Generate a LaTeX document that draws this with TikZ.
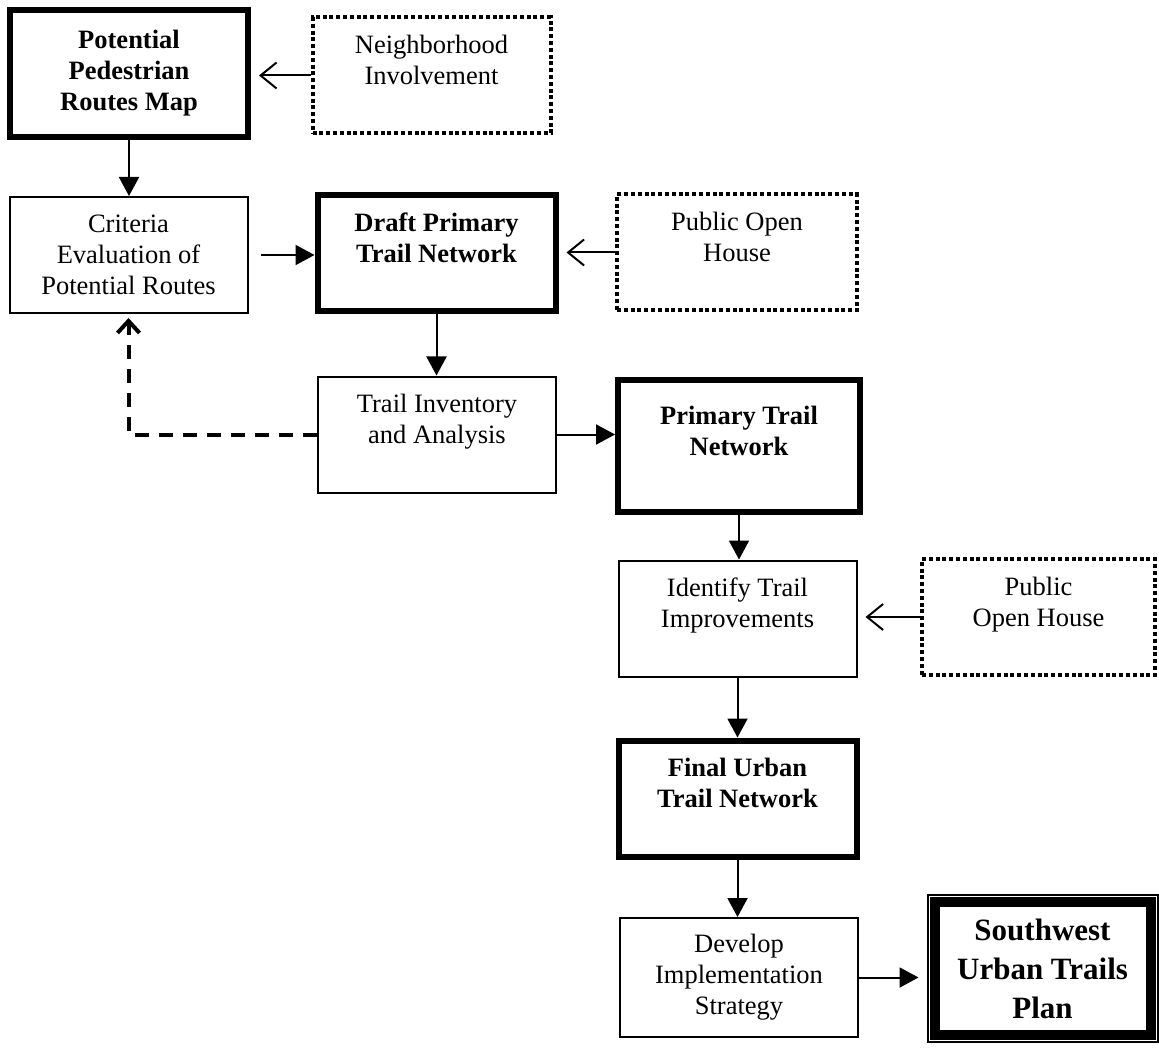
\documentclass[tikz,border=0pt]{standalone}
\usepackage{fontspec}
\setmainfont{Liberation Serif}
\usetikzlibrary{arrows.meta}

\begin{document}
\begin{tikzpicture}[x=.5pt,y=-.5pt,line width=1pt,
    box/.style={draw,align=center,inner sep=0pt,minimum width=119pt,minimum height=58pt,
      font=\fontsize{13.25}{15.5}\selectfont},
    heavy/.style={box,line width=3pt,font=\fontsize{13.25}{15.5}\selectfont\bfseries},
    dots/.style={box,line width=2pt,dash pattern=on 2pt off 1.4pt},
    fed/.style={-{Triangle[length=9.5pt,width=10pt]}},
    input/.style={-{Straight Barb[length=8pt,width=13pt]},shorten >=4pt},
    back/.style={line width=2pt,dash pattern=on 7pt off 5pt,shorten >=2pt,
      -{Straight Barb[length=6pt,width=11pt]}}]
      \useasboundingbox (0,0) rectangle (1159,1047);

      \node[heavy,minimum height=63.5pt] (A0) at (129,73.5) {Potential\\Pedestrian\\Routes Map};
      \node[dots] (A1) at (431.5,75.5) {Neighborhood\\Involvement\\\mbox{}};

      \node[box] (B0) at (128.5,255) {Criteria\\Evaluation of\\Potential Routes};
      \node[heavy] (B1) at (436.5,253.5) {Draft Primary\\Trail Network\\\mbox{}};
      \node[dots,minimum width=120pt] (B2) at (737,252.5) {Public Open\\House\\\mbox{}};

      \node[box] (C1) at (437,434.5) {Trail Inventory\\and Analysis\\\mbox{}};
      \node[heavy,minimum width=121pt,minimum height=66pt] (C2) at (739,446) {Primary Trail\\Network\\\mbox{}};

      \node[box] (D2) at (737.5,618.5) {Identify Trail\\Improvements\\\mbox{}};
      \node[dots,minimum width=116.5pt] (D3) at (1038.5,617) {Public\\Open House\\\mbox{}};

      \node[heavy] (E2) at (737.5,798.5) {Final Urban\\Trail Network\\\mbox{}};

      \node[box,minimum height=59.5pt] (F2) at (739,977.5) {Develop\\Implementation\\Strategy};
      \node[box,minimum width=115pt,minimum height=73.5pt,
        font=\fontsize{15.5}{19.5}\selectfont\bfseries] (F3) at (1042.5,968.5) {Southwest\\Urban Trails\\Plan};
      \draw[line width=5pt] ([shift={(4pt,-4pt)}]F3.north west) rectangle ([shift={(-4pt,4pt)}]F3.south east);

      \draw[input] (A1.west) -- (A1.west -| A0.east);
      \draw[fed] (A0.south) -- (A0.south |- B0.north);
      \draw[fed,shorten <=6pt] (B0.east) -- (B0.east -| B1.west);
      \draw[input] (B2.west) -- (B2.west -| B1.east);
      \draw[fed] (B1.south) -- (B1.south |- C1.north);
      \draw[back] (C1.west) -| (B0.south);
      \draw[fed] (C1.east) -- (C1.east -| C2.west);
      \draw[fed] (C2.south) -- (C2.south |- D2.north);
      \draw[input] (D3.west) -- (D3.west -| D2.east);
      \draw[fed] (D2.south) -- (D2.south |- E2.north);
      \draw[fed] (E2.south) -- (E2.south |- F2.north);
      \draw[fed,shorten >=4pt] (F2.east) -- (F2.east -| F3.west);
    \end{tikzpicture}
\end{document}
